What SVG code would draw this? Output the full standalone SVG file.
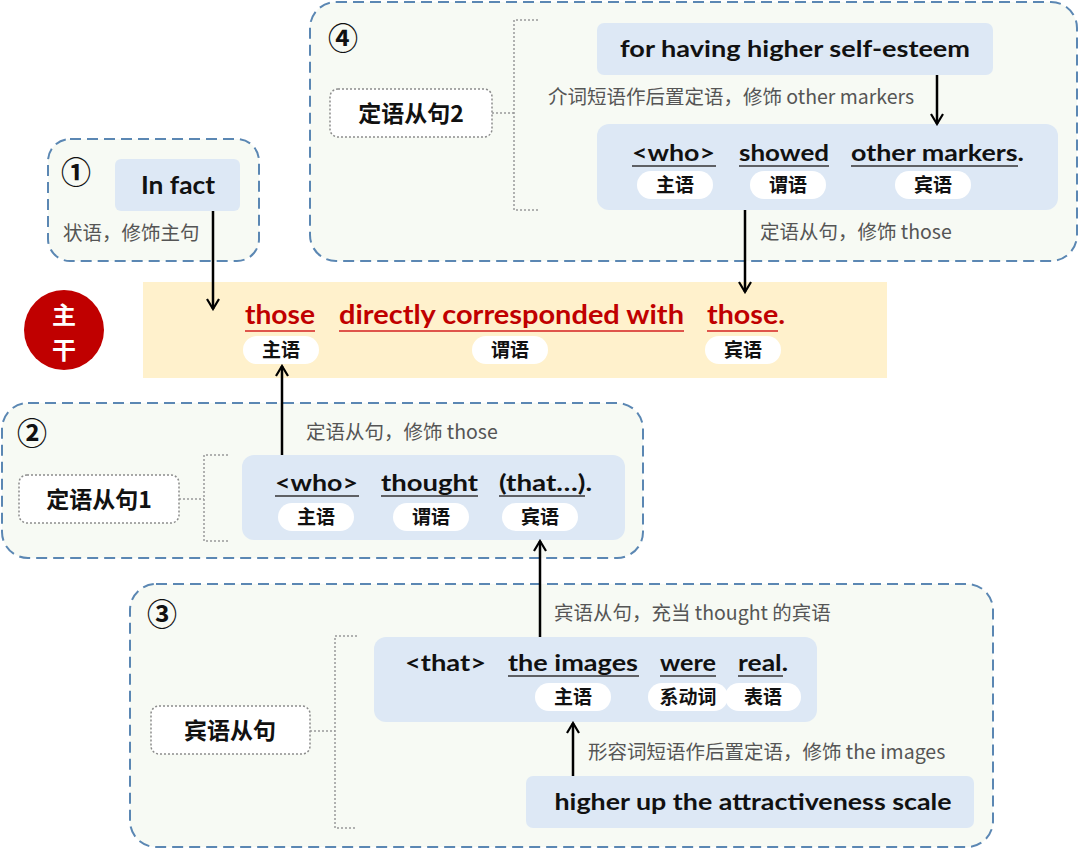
<svg xmlns="http://www.w3.org/2000/svg" width="1080" height="849" viewBox="0 0 1080 849">
<defs>
<marker id="arr" viewBox="0 0 14 14" refX="12" refY="7" markerWidth="14" markerHeight="14" markerUnits="userSpaceOnUse" orient="auto">
<path d="M2,1 L12,7 L2,13" fill="none" stroke="#000" stroke-width="2.2"/>
</marker>
<style>
.grp{fill:#f7faf4;stroke:#5b87b3;stroke-width:2;stroke-dasharray:11 6}
.blue{fill:#dde8f5}
.pill{fill:#fff}
.tag{fill:#fff;stroke:#8c8c8c;stroke-width:1.5;stroke-dasharray:2 2}
.brk{fill:none;stroke:#999;stroke-width:1.5;stroke-dasharray:2 2}
.en{font-family:Lato,"Open Sans","Liberation Sans",sans-serif;font-weight:bold;fill:#111}
.cn{font-family:"Noto Sans CJK SC",sans-serif;font-weight:bold;fill:#111}
.note{font-family:"Noto Sans CJK SC",sans-serif;font-size:19.5px;fill:#555}
.num{font-family:"Noto Sans CJK SC","DejaVu Sans",sans-serif;font-weight:bold;font-size:30px;fill:#111}
.ul{stroke:#333;stroke-width:1.5}
.ulr{stroke:#d42020;stroke-width:1.5}
.red{font-family:Lato,"Open Sans","Liberation Sans",sans-serif;font-weight:bold;fill:#c00000}
.con{stroke:#000;stroke-width:2.5;fill:none}
</style>
</defs>

<g id="group1">
<rect class="grp" x="48" y="139" width="211" height="122" rx="22"/>
<text class="num" x="61" y="183">①</text>
<rect class="blue" x="115" y="159" width="125" height="52" rx="6"/>
<text class="en" x="178" y="194" font-size="24" text-anchor="middle" textLength="74" lengthAdjust="spacingAndGlyphs">In fact</text>
<text class="note" x="63" y="240">状语，修饰主句</text>
</g>

<g id="group4">
<rect class="grp" x="310" y="2" width="767" height="259" rx="26"/>
<text class="num" x="328" y="49">④</text>
<rect class="tag" x="330" y="89" width="162" height="48" rx="8"/>
<text class="cn" x="411" y="122" font-size="23" text-anchor="middle">定语从句2</text>
<path class="brk" d="M492,113 H514 M538,20 H514 V210 H538"/>
<rect class="blue" x="597" y="23" width="396" height="52" rx="7"/>
<text class="en" x="795" y="57" font-size="23" text-anchor="middle" textLength="350" lengthAdjust="spacingAndGlyphs">for having higher self-esteem</text>
<text class="note" x="548" y="104">介词短语作后置定语，修饰 other markers</text>
<rect class="blue" x="597" y="124" width="461" height="86" rx="12"/>
<text class="en" x="632" y="161" font-size="23" textLength="83" lengthAdjust="spacingAndGlyphs">&lt;who&gt;</text>
<text class="en" x="739" y="161" font-size="23" textLength="90" lengthAdjust="spacingAndGlyphs">showed</text>
<text class="en" x="851" y="161" font-size="23" textLength="173" lengthAdjust="spacingAndGlyphs">other markers.</text>
<line class="ul" x1="632" y1="166" x2="716" y2="166"/>
<line class="ul" x1="739" y1="166" x2="829" y2="166"/>
<line class="ul" x1="851" y1="166" x2="1018" y2="166"/>
<rect class="pill" x="637" y="171" width="76" height="28" rx="14"/>
<rect class="pill" x="750" y="171" width="76" height="28" rx="14"/>
<rect class="pill" x="895" y="171" width="76" height="28" rx="14"/>
<text class="cn" x="675" y="192" font-size="19" text-anchor="middle">主语</text>
<text class="cn" x="788" y="192" font-size="19" text-anchor="middle">谓语</text>
<text class="cn" x="933" y="192" font-size="19" text-anchor="middle">宾语</text>
<text class="note" x="760" y="239">定语从句，修饰 those</text>
</g>

<g id="main">
<rect x="143" y="282" width="744" height="96" fill="#fff1cc"/>
<ellipse cx="64" cy="330" rx="40" ry="40" fill="#c00000"/>
<text x="64" y="324" font-family="'Noto Sans CJK SC',sans-serif" font-weight="bold" font-size="24" fill="#fff" text-anchor="middle">主</text>
<text x="64" y="359" font-family="'Noto Sans CJK SC',sans-serif" font-weight="bold" font-size="24" fill="#fff" text-anchor="middle">干</text>
<text class="red" x="245" y="324" font-size="26" textLength="70" lengthAdjust="spacingAndGlyphs">those</text>
<text class="red" x="339" y="324" font-size="26" textLength="345" lengthAdjust="spacingAndGlyphs">directly corresponded with</text>
<text class="red" x="707" y="324" font-size="26" textLength="78" lengthAdjust="spacingAndGlyphs">those.</text>
<line class="ulr" x1="245" y1="331" x2="315" y2="331"/>
<line class="ulr" x1="339" y1="331" x2="684" y2="331"/>
<line class="ulr" x1="707" y1="331" x2="778" y2="331"/>
<rect class="pill" x="243" y="336" width="76" height="28" rx="14"/>
<rect class="pill" x="472" y="336" width="76" height="28" rx="14"/>
<rect class="pill" x="705" y="336" width="76" height="28" rx="14"/>
<text class="cn" x="281" y="357" font-size="19" text-anchor="middle">主语</text>
<text class="cn" x="510" y="357" font-size="19" text-anchor="middle">谓语</text>
<text class="cn" x="743" y="357" font-size="19" text-anchor="middle">宾语</text>
</g>

<g id="group2">
<rect class="grp" x="2" y="403" width="641" height="155" rx="26"/>
<text class="num" x="17" y="444">②</text>
<rect class="tag" x="19" y="475" width="160" height="48" rx="8"/>
<text class="cn" x="99" y="508" font-size="23" text-anchor="middle">定语从句1</text>
<path class="brk" d="M179,499 H204 M228,455 H204 V541 H228"/>
<rect class="blue" x="242" y="455" width="383" height="85" rx="12"/>
<text class="en" x="275" y="491" font-size="23" textLength="83" lengthAdjust="spacingAndGlyphs">&lt;who&gt;</text>
<text class="en" x="381" y="491" font-size="23" textLength="97" lengthAdjust="spacingAndGlyphs">thought</text>
<text class="en" x="499" y="491" font-size="23" textLength="93" lengthAdjust="spacingAndGlyphs">(that…).</text>
<line class="ul" x1="275" y1="496" x2="359" y2="496"/>
<line class="ul" x1="381" y1="496" x2="478" y2="496"/>
<line class="ul" x1="499" y1="496" x2="585" y2="496"/>
<rect class="pill" x="278" y="503" width="76" height="28" rx="14"/>
<rect class="pill" x="393" y="503" width="76" height="28" rx="14"/>
<rect class="pill" x="502" y="503" width="76" height="28" rx="14"/>
<text class="cn" x="316" y="524" font-size="19" text-anchor="middle">主语</text>
<text class="cn" x="431" y="524" font-size="19" text-anchor="middle">谓语</text>
<text class="cn" x="540" y="524" font-size="19" text-anchor="middle">宾语</text>
<text class="note" x="306" y="439">定语从句，修饰 those</text>
</g>

<g id="group3">
<rect class="grp" x="130" y="584" width="863" height="263" rx="26"/>
<text class="num" x="147" y="625">③</text>
<rect class="tag" x="151" y="706" width="159" height="48" rx="8"/>
<text class="cn" x="230" y="739" font-size="23" text-anchor="middle">宾语从句</text>
<path class="brk" d="M310,731 H335 M357,636 H335 V828 H357"/>
<rect class="blue" x="374" y="637" width="443" height="85" rx="12"/>
<text class="en" x="405" y="671" font-size="23" textLength="81" lengthAdjust="spacingAndGlyphs">&lt;that&gt;</text>
<text class="en" x="508" y="671" font-size="23" textLength="130" lengthAdjust="spacingAndGlyphs">the images</text>
<text class="en" x="660" y="671" font-size="23" textLength="56" lengthAdjust="spacingAndGlyphs">were</text>
<text class="en" x="738" y="671" font-size="23" textLength="50" lengthAdjust="spacingAndGlyphs">real.</text>
<line class="ul" x1="508" y1="676" x2="639" y2="676"/>
<line class="ul" x1="660" y1="676" x2="716" y2="676"/>
<line class="ul" x1="738" y1="676" x2="783" y2="676"/>
<rect class="pill" x="535" y="683" width="76" height="28" rx="14"/>
<rect class="pill" x="648" y="683" width="80" height="28" rx="14"/>
<rect class="pill" x="725" y="683" width="76" height="28" rx="14"/>
<text class="cn" x="573" y="704" font-size="19" text-anchor="middle">主语</text>
<text class="cn" x="688" y="704" font-size="19" text-anchor="middle">系动词</text>
<text class="cn" x="763" y="704" font-size="19" text-anchor="middle">表语</text>
<text class="note" x="554" y="620">宾语从句，充当 thought 的宾语</text>
<rect class="blue" x="526" y="776" width="448" height="52" rx="7"/>
<text class="en" x="753" y="810" font-size="23" textLength="397" lengthAdjust="spacingAndGlyphs" text-anchor="middle">higher up the attractiveness scale</text>
<text class="note" x="588" y="759">形容词短语作后置定语，修饰 the images</text>
</g>

<g id="connectors">
<line class="con" x1="213" y1="211" x2="213" y2="309" marker-end="url(#arr)"/>
<line class="con" x1="937" y1="75" x2="937" y2="124" marker-end="url(#arr)"/>
<line class="con" x1="745" y1="210" x2="745" y2="292" marker-end="url(#arr)"/>
<line class="con" x1="282" y1="455" x2="282" y2="366" marker-end="url(#arr)"/>
<line class="con" x1="540" y1="637" x2="540" y2="541" marker-end="url(#arr)"/>
<line class="con" x1="573" y1="776" x2="573" y2="723" marker-end="url(#arr)"/>
</g>
</svg>
